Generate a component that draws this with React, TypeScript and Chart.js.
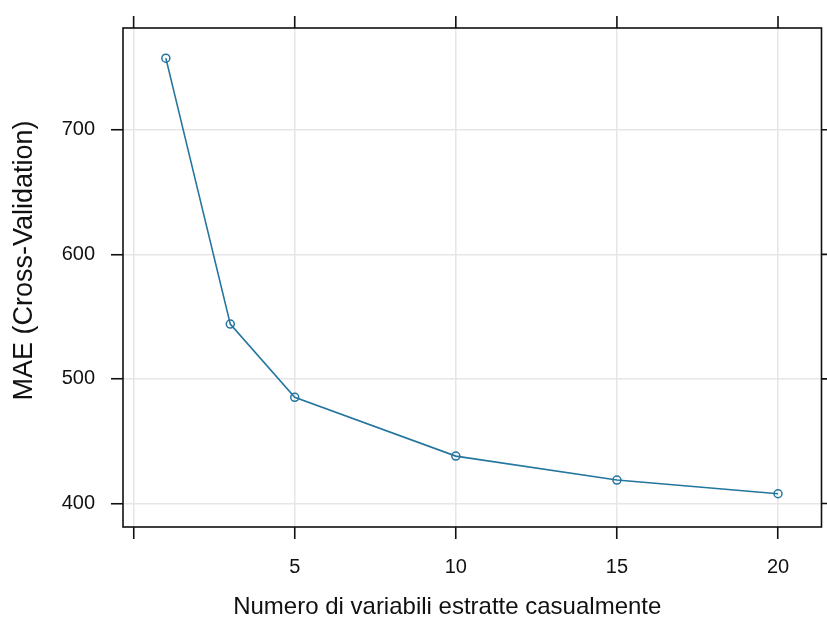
import React, { useEffect, useRef } from "react";
import { Chart, registerables } from "chart.js";

Chart.register(...registerables);

// Random forest tuning: number of randomly sampled predictors vs. cross-validated MAE
const mtryValues = [1, 3, 5, 10, 15, 20];
const maeValues = [757.5, 544, 485.2, 438, 418.8, 407.8];
const xTickValues = [0, 5, 10, 15, 20];
const yTickValues = [400, 500, 600, 700];

const xTitle = "Numero di variabili estratte casualmente";
const yTitle = "MAE (Cross-Validation)";

const FONT = '"Liberation Sans", Arial, Helvetica, sans-serif';
const LINE_COLOR = "#24769f";
const GRID_COLOR = "#e6e6e6";
const TICK_LEN = 12;

// Lattice-style frame: box around the panel, ticks on all four sides, centred axis titles
const latticeFrame = {
  id: "latticeFrame",
  afterDraw(chart: any) {
    const { ctx, chartArea, scales } = chart;
    const { left, right, top, bottom } = chartArea;
    ctx.save();
    ctx.strokeStyle = "#111";
    ctx.lineWidth = 1.6;
    ctx.strokeRect(left, top, right - left, bottom - top);

    // mirrored ticks on top and right edges
    ctx.beginPath();
    scales.x.ticks.forEach((t: any) => {
      const px = scales.x.getPixelForValue(t.value);
      ctx.moveTo(px, top);
      ctx.lineTo(px, top - TICK_LEN);
    });
    scales.y.ticks.forEach((t: any) => {
      const py = scales.y.getPixelForValue(t.value);
      ctx.moveTo(right, py);
      ctx.lineTo(right + TICK_LEN, py);
    });
    ctx.stroke();

    // axis titles
    ctx.fillStyle = "#111";
    ctx.textAlign = "center";
    ctx.textBaseline = "middle";
    ctx.font = `24px ${FONT}`;
    ctx.fillText(xTitle, (left + right) / 2 - 25, bottom + 80);

    ctx.translate(25, (top + bottom) / 2 - 17);
    ctx.rotate(-Math.PI / 2);
    ctx.font = `27px ${FONT}`;
    ctx.fillText(yTitle, 0, 0);
    ctx.restore();
  },
};

export default function App() {
  const canvasRef = useRef<HTMLCanvasElement | null>(null);

  useEffect(() => {
    if (!canvasRef.current) return;
    const chart = new Chart(canvasRef.current, {
      type: "line",
      data: {
        datasets: [
          {
            data: mtryValues.map((x, i) => ({ x, y: maeValues[i] })),
            borderColor: LINE_COLOR,
            borderWidth: 1.6,
            pointStyle: "circle",
            pointRadius: 4,
            pointBorderWidth: 1.5,
            pointBorderColor: LINE_COLOR,
            pointBackgroundColor: "rgba(255,255,255,0)",
            tension: 0,
          },
        ],
      },
      options: {
        responsive: false,
        animation: false,
        layout: { padding: { left: 0, top: 24, right: 4, bottom: 0 } },
        plugins: {
          legend: { display: false },
          tooltip: { enabled: false },
        },
        scales: {
          x: {
            type: "linear",
            min: -0.33,
            max: 21.35,
            afterFit: (scale: any) => {
              scale.height = 101;
            },
            afterBuildTicks: (scale: any) => {
              scale.ticks = xTickValues.map((v) => ({ value: v }));
            },
            ticks: {
              callback: (v: any) => (v === 0 ? "" : String(v)),
              color: "#111",
              font: { family: FONT, size: 20 },
              padding: 16,
              maxRotation: 0,
            },
            grid: {
              color: GRID_COLOR,
              lineWidth: 1.5,
              tickColor: "#111",
              tickLength: TICK_LEN,
              tickWidth: 1.6,
            },
            border: { display: false },
          },
          y: {
            type: "linear",
            min: 381.1,
            max: 781.7,
            afterFit: (scale: any) => {
              scale.width = 123;
            },
            afterBuildTicks: (scale: any) => {
              scale.ticks = yTickValues.map((v) => ({ value: v }));
            },
            ticks: {
              color: "#111",
              font: { family: FONT, size: 20 },
              padding: 16,
            },
            grid: {
              color: GRID_COLOR,
              lineWidth: 1.5,
              tickColor: "#111",
              tickLength: TICK_LEN,
              tickWidth: 1.6,
            },
            border: { display: false },
          },
        },
      },
      plugins: [latticeFrame],
    } as any);
    return () => chart.destroy();
  }, []);

  return (
    <div style={{ position: "absolute", left: 0, top: 0, width: 827, height: 628, background: "#fff" }}>
      <canvas ref={canvasRef} width={827} height={628} />
    </div>
  );
}
